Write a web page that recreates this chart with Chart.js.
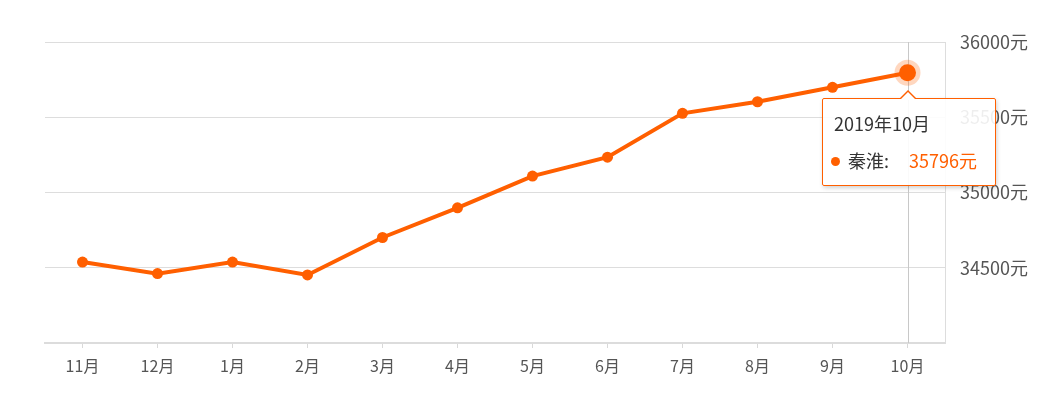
<!DOCTYPE html>
<html>
<head>
<meta charset="utf-8">
<script src="https://cdn.jsdelivr.net/npm/chart.js@4/dist/chart.umd.min.js"></script>
<style>
  html, body { margin: 0; padding: 0; background: #fff; }
  #wrap { position: relative; width: 1044px; height: 407px; }
  #tip {
    position: absolute; box-sizing: border-box;
    background: rgba(255,255,255,0.9); border: 1px solid #ff5f00; border-radius: 2px;
    box-shadow: 1px 2px 4px rgba(0,0,0,0.18);
    font-family: "Noto Sans CJK SC", "Noto Sans", sans-serif; color: #333;
    padding: 12px 11px 0 11px; width: 174px; height: 88px;
  }
  #tip .t { font-size: 18px; line-height: 24px; white-space: nowrap; }
  #tip .b { font-size: 18px; line-height: 24px; margin-top: 13px; white-space: nowrap; }
  #tip .dot { display: inline-block; width: 9px; height: 9px; border-radius: 50%; background: #ff5f00; margin: 0 8px 3px -3px; vertical-align: middle; }
  #tip .v { color: #ff5f00; margin-left: 20px; }
  #tip .caret, #tip .caret2 { position: absolute; width: 0; height: 0; }
  #tip .caret { top: -9px; left: 76px; border-left: 9px solid transparent; border-right: 9px solid transparent; border-bottom: 9px solid #ff5f00; }
  #tip .caret2 { top: -7px; left: 77px; border-left: 8px solid transparent; border-right: 8px solid transparent; border-bottom: 8px solid #fff; }
</style>
</head>
<body>
<div id="wrap">
  <canvas id="c" width="1044" height="407"></canvas>
  <div id="tip" style="display:none"><div class="caret"></div><div class="caret2"></div><div class="t"></div><div class="b"></div></div>
</div>
<script>
const categories = ['11月','12月','1月','2月','3月','4月','5月','6月','7月','8月','9月','10月'];
const tooltipTitles = ['2018年11月','2018年12月','2019年1月','2019年2月','2019年3月','2019年4月','2019年5月','2019年6月','2019年7月','2019年8月','2019年9月','2019年10月'];
const seriesName = '秦淮';
const prices = [34538, 34461, 34538, 34452, 34701, 34898, 35109, 35235, 35526, 35603, 35699, 35796];
const yTicks = [34000, 34500, 35000, 35500, 36000];

const ORANGE = '#ff5f00';

function externalTip(context) {
  const tt = context.tooltip;
  const el = document.getElementById('tip');
  if (tt.opacity === 0 || !tt.dataPoints || !tt.dataPoints.length) { el.style.display = 'none'; return; }
  const dp = tt.dataPoints[0];
  el.querySelector('.t').textContent = tooltipTitles[dp.dataIndex];
  el.querySelector('.b').innerHTML = '<span class="dot"></span>' + seriesName + ':<span class="v">' + dp.raw + '元</span>';
  el.style.display = 'block';
  const x = dp.element.x, y = dp.element.y;
  el.style.left = Math.round(x - 86) + 'px';
  el.style.top = Math.round(y + 25) + 'px';
}

const crosshair = {
  id: 'crosshair',
  beforeDatasetsDraw(chart) {
    const act = chart.getActiveElements();
    if (!act.length) return;
    const el = act[0].element;
    const ctx = chart.ctx, a = chart.chartArea;
    ctx.save();
    ctx.strokeStyle = '#c8c8c8';
    ctx.lineWidth = 1;
    ctx.beginPath();
    ctx.moveTo(Math.round(el.x) + 0.5, a.top);
    ctx.lineTo(Math.round(el.x) + 0.5, a.bottom);
    ctx.stroke();
    ctx.fillStyle = 'rgba(255,95,0,0.25)';
    ctx.beginPath();
    ctx.arc(el.x, el.y, 13, 0, Math.PI * 2);
    ctx.fill();
    ctx.restore();
  }
};

const chart = new Chart(document.getElementById('c'), {
  type: 'line',
  data: {
    labels: categories,
    datasets: [{
      label: seriesName,
      data: prices,
      borderColor: ORANGE,
      backgroundColor: ORANGE,
      borderWidth: 4,
      pointRadius: 5.5,
      pointBackgroundColor: ORANGE,
      pointBorderWidth: 0,
      pointHoverRadius: 8.5,
      pointHoverBorderWidth: 0,
      pointHoverBackgroundColor: ORANGE,
      tension: 0,
      fill: false
    }]
  },
  options: {
    responsive: false,
    animation: false,
    events: [],
    layout: { padding: { left: 45, top: 42, right: 0, bottom: 0 } },
    plugins: {
      legend: { display: false },
      tooltip: { enabled: false, external: externalTip }
    },
    scales: {
      x: {
        offset: true,
        grid: { display: true, drawOnChartArea: false, offset: false, color: '#d9d9d9', tickLength: 5, lineWidth: 1 },
        border: { display: true, color: '#dcdcdc', width: 2 },
        ticks: { color: '#555', font: { family: '"Noto Sans CJK SC", sans-serif', size: 16 }, padding: 8, maxRotation: 0, autoSkip: false },
        afterFit(s) { s.height = 64; }
      },
      y: {
        position: 'right',
        min: 34000, max: 36000,
        afterBuildTicks(s) { s.ticks = yTicks.map(v => ({ value: v })); },
        grid: { color: '#dddddd', lineWidth: 1, drawTicks: false },
        border: { display: true, color: '#dddddd', width: 1 },
        ticks: {
          color: '#555', padding: 15,
          font: { family: '"Noto Sans CJK SC", sans-serif', size: 18 },
          callback(v) { return v === 34000 ? '' : v + '元'; }
        },
        afterFit(s) { s.width = 99; }
      }
    }
  },
  plugins: [crosshair]
});

const last = prices.length - 1;
chart.setActiveElements([{ datasetIndex: 0, index: last }]);
chart.tooltip.setActiveElements([{ datasetIndex: 0, index: last }], { x: 0, y: 0 });
chart.update();
</script>
</body>
</html>
